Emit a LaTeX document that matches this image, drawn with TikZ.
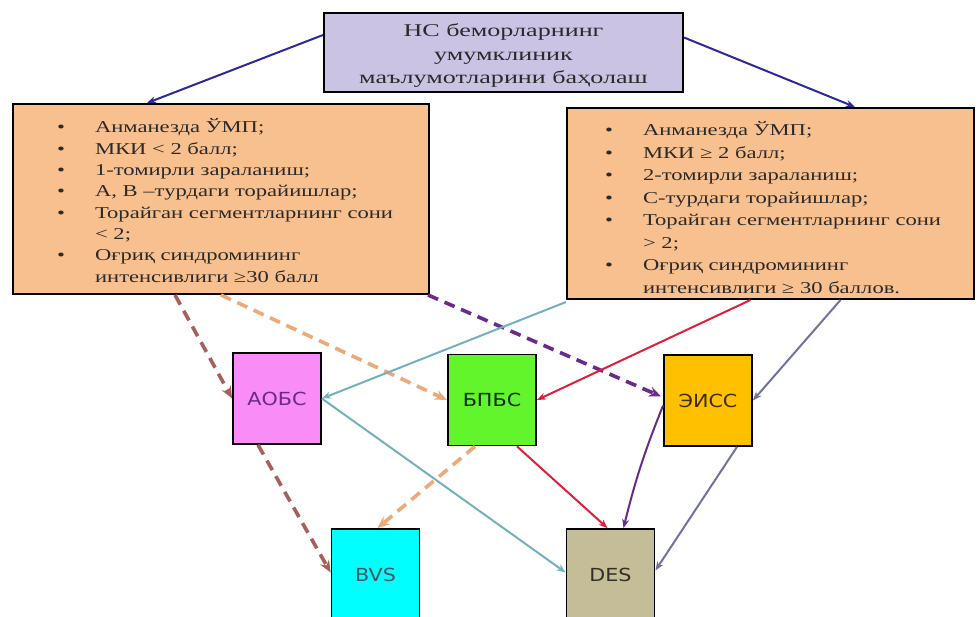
\documentclass[tikz,border=0pt]{standalone}
\usepackage{fontspec}
\setmainfont{Liberation Serif}
\newfontfamily\boxfont{Liberation Serif}[FakeStretch=1.36]
\newfontfamily\topfont{Liberation Serif}[FakeStretch=1.45]
\newfontfamily\labfont{DejaVu Sans}[FakeStretch=1.15]
\usetikzlibrary{arrows.meta}
\definecolor{topfill}{HTML}{CBC3E3}
\definecolor{peach}{HTML}{F9C08F}
\definecolor{pinkbox}{HTML}{FA8CF8}
\definecolor{greenbox}{HTML}{62F52C}
\definecolor{amber}{HTML}{FFC000}
\definecolor{cyanbox}{HTML}{00FFFF}
\definecolor{tanbox}{HTML}{C4BD97}
\definecolor{navyln}{HTML}{2A2A9A}
\definecolor{brownln}{HTML}{A65F5A}
\definecolor{tanln}{HTML}{EDAA78}
\definecolor{purpln}{HTML}{6A2A8A}
\definecolor{tealln}{HTML}{74B0BE}
\definecolor{redln}{HTML}{E0203A}
\definecolor{grayln}{HTML}{7272A0}
\definecolor{txt}{HTML}{2A2A2A}
\begin{document}
\begin{tikzpicture}[x=1pt,y=-1pt,
  bigbox/.style={draw=black, line width=2pt, inner sep=0pt},
  sq/.style={draw=black, line width=1.8pt, inner sep=0pt, minimum width=88pt, minimum height=91pt,
     font=\labfont\fontsize{18}{20}\selectfont},
  arr/.style={-{Stealth[length=9pt,width=7pt]}},
  dsh/.style={line width=3.6pt, dash pattern=on 11pt off 7pt, -{Stealth[length=12pt,width=10pt]}},
  sol/.style={line width=2pt, arr}]
\useasboundingbox (0,0) rectangle (978,617);
\fill[white] (0,0) rectangle (978,617);

% boxes
\node[bigbox, fill=topfill, minimum width=359pt, minimum height=79pt] (T) at (503.5,52.5) {};
\node[text=txt, align=center, inner sep=0pt, font=\topfont\fontsize{18}{23.5}\selectfont] (Tt) at (503.5,56)
  {НС беморларнинг\\умумклиник\\маълумотларини баҳолаш};

\node[bigbox, fill=peach, minimum width=416pt, minimum height=190pt] (L) at (221,199) {};
\node[anchor=base west, inner sep=0pt, text=txt] (Lt) at (57,133)
 {\boxfont\fontsize{16.6}{21.3}\selectfont\begin{tabular}[t]{@{}l@{\hspace{30pt}}l@{}}
•&Анманезда ЎМП;\\
•&МКИ < 2 балл;\\
•&1-томирли зараланиш;\\
•&А, В –турдаги торайишлар;\\
•&Торайган сегментларнинг сони\\
&< 2;\\
•&Оғриқ синдромининг\\
&интенсивлиги ≥30 балл
\end{tabular}};

\node[bigbox, fill=peach, minimum width=407pt, minimum height=191pt] (R) at (770.5,203.5) {};
\node[anchor=base west, inner sep=0pt, text=txt] (Rt) at (605,136)
 {\boxfont\fontsize{16.6}{22.5}\selectfont\begin{tabular}[t]{@{}l@{\hspace{30pt}}l@{}}
•&Анманезда ЎМП;\\
•&МКИ ≥ 2 балл;\\
•&2-томирли зараланиш;\\
•&С-турдаги торайишлар;\\
•&Торайган сегментларнинг сони\\
&> 2;\\
•&Оғриқ синдромининг\\
&интенсивлиги ≥ 30 баллов.
\end{tabular}};

\node[sq, fill=pinkbox, text=purpln] (A) at (277,398.5) {АОБС};
\node[sq, fill=greenbox, text={black!60!green!40!black}] (B) at (492,400) {БПБС};
\node[sq, fill=amber, text={black!75!amber}] (E) at (708,400.5) {ЭИСС};
\node[sq, fill=cyanbox, text={black!70!cyan}] (V) at (375.5,574.5) {BVS};
\node[sq, fill=tanbox, text={black!75!tanbox}] (D) at (610.5,574.5) {DES};

% connectors
\draw[sol, color=navyln] ([yshift=17.5pt]T.west) -- ([xshift=-74pt]L.north);
\draw[sol, color=navyln] ([yshift=15pt]T.east) -- ([xshift=84.5pt]R.north);

\draw[dsh, color=brownln] ([xshift=-46pt]L.south) -- (A.west);
\draw[dsh, color=tanln] (L.south) -- (B.west);
\draw[dsh, color=purpln] ([xshift=-2pt]L.south east) -- ([xshift=-2pt,yshift=4pt]E.west);

\draw[sol, color=tealln] ([yshift=-2pt]R.south west) -- (A.east);
\draw[sol, color=redln] ([xshift=-20pt]R.south) -- (B.east);
\draw[sol, color=grayln] ([xshift=70pt]R.south) -- (E.east);

\draw[dsh, color=brownln] ([xshift=-19pt]A.south) -- ([yshift=2pt]V.west);
\draw[dsh, color=tanln] ([xshift=-17pt]B.south) -- ([xshift=2pt]V.north);
\draw[sol, color=tealln] (A.east) -- ([yshift=2pt]D.west);
\draw[sol, color=redln] ([xshift=25pt]B.south) -- ([xshift=-3pt]D.north);
\draw[sol, color=grayln] ([xshift=29pt]E.south) -- ([yshift=4pt]D.east);
\draw[sol, color=purpln] ([yshift=-5pt]E.west) to[bend right=4] ([xshift=13pt]D.north);
\end{tikzpicture}
\end{document}
